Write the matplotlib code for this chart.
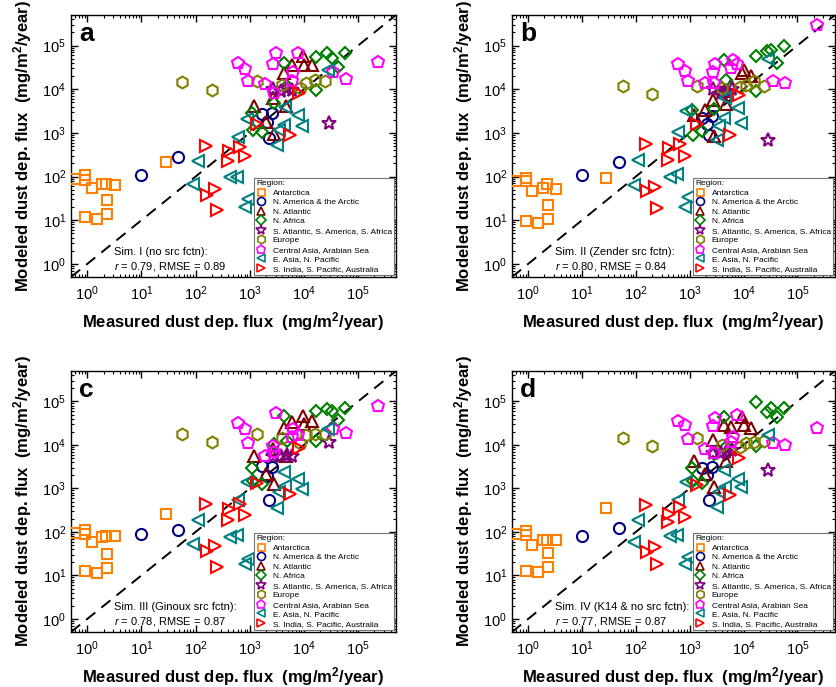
import numpy as np
import matplotlib.pyplot as plt
from matplotlib.lines import Line2D

plt.rcParams['font.family'] = ['Liberation Sans', 'DejaVu Sans']
plt.rcParams['mathtext.fontset'] = 'custom'
plt.rcParams['mathtext.rm'] = 'Liberation Sans'
plt.rcParams['mathtext.it'] = 'Liberation Sans:italic'
plt.rcParams['mathtext.bf'] = 'Liberation Sans:bold'

# ---- data: measured flux (x) shared, modeled flux per simulation (a, b, c, d) ----
ant_x = [0.6, 0.9, 0.9, 0.9, 1.2, 1.5, 1.9, 2.2, 2.3, 2.3, 3.3, 28]
ant_a = [87, 106, 84, 11.9, 56, 10.5, 67, 69, 29, 14, 63, 210]
ant_b = [78, 93, 78, 9.4, 46, 8.5, 55, 66, 22, 10.5, 53, 93]
ant_c = [92, 110, 88, 12.6, 60, 11.4, 76, 79, 31.5, 14.8, 79, 263]
ant_d = [88, 103, 86, 12.6, 49, 12, 64, 64, 33, 16, 64, 360]

nam_x = [10, 48, 1700, 2100, 2600, 2250]
nam_a = [111, 273, 2650, 1750, 2900, 760]
nam_b = [107, 218, 2200, 1600, 2400, 900]
nam_c = [91, 112, 3250, 1900, 3100, 540]
nam_d = [82, 125, 3000, 2000, 3100, 530]

nat_x = [1200, 1950, 2800, 2700, 4300, 5900, 4700, 9500, 10000, 13800]
nat_a = [4100, 1800, 950, 6200, 24000, 36000, 4100, 57000, 36000, 36000]
nat_b = [2500, 3300, 850, 5600, 9000, 12500, 4500, 23000, 27000, 20000]
nat_c = [5500, 2200, 1270, 8200, 25000, 34000, 5700, 46000, 31000, 35000]
nat_d = [4200, 2100, 1070, 12700, 28000, 26000, 4200, 44000, 28000, 25000]

naf_x = [1100, 1150, 1700, 2800, 4300, 4800, 17000, 17000, 27000, 33000, 42000, 57000]
naf_a = [2900, 1170, 1060, 4800, 39000, 12000, 54000, 9800, 66000, 51000, 32000, 69000]
naf_b = [3300, 900, 1100, 3500, 47000, 16000, 59000, 8900, 74000, 80000, 40000, 98000]
naf_c = [2950, 1500, 1230, 10600, 45000, 12000, 59000, 12000, 68000, 60000, 38000, 72000]
naf_d = [2950, 1500, 1300, 6300, 44000, 9000, 97000, 9300, 57000, 69000, 44000, 69000]

sat_x = [2700, 3800, 4800, 6000, 29000]
sat_a = [10000, 9000, 10500, 9500, 1650]
sat_b = [10000, 8000, 9000, 10000, 680]
sat_c = [5700, 5700, 5800, 5700, 11700]
sat_d = [6500, 6500, 7000, 7500, 2700]

eur_x = [57, 198, 1340, 4000, 8500, 11000, 15800, 24500]
eur_a = [14800, 9500, 15400, 12500, 10400, 14000, 16000, 15000]
eur_b = [12000, 7800, 12000, 10500, 11000, 12500, 15000, 12000]
eur_c = [17500, 11800, 17500, 14500, 11000, 16500, 17500, 17500]
eur_d = [14400, 9400, 14400, 10000, 9000, 11000, 11500, 12000]

cas_x = [615, 815, 935, 1900, 2700, 3000, 2850, 6300, 5900, 7600, 35000, 60000, 230000]
cas_a = [39000, 29000, 15500, 13000, 38000, 69000, 8300, 25000, 15000, 69000, 25000, 17000, 43000]
cas_b = [37000, 26500, 15000, 13500, 25000, 37000, 13500, 47000, 30000, 37000, 15400, 13500, 295000]
cas_c = [32000, 23500, 11000, 5700, 9300, 54000, 6900, 23000, 15000, 17000, 23000, 18700, 77000]
cas_d = [35000, 28000, 13500, 7900, 27000, 41000, 6600, 15000, 11500, 50000, 11000, 9800, 25000]

eas_x = [91, 109, 430, 570, 600, 870, 815, 935, 3150, 3500, 4300, 4500, 7900, 9100, 28000]
eas_a = [66, 225, 98, 98, 810, 2050, 20, 31, 525, 1150, 1500, 4000, 2600, 1400, 27500]
eas_b = [63, 245, 98, 117, 1060, 3100, 20, 34, 680, 1400, 2200, 6300, 3700, 1650, 48000]
eas_c = [53, 185, 75, 83, 550, 1400, 18, 24, 360, 810, 2400, 1130, 1660, 980, 23000]
eas_d = [58, 185, 79, 83, 550, 1400, 18, 26, 380, 820, 2600, 1070, 1660, 1070, 17000]

sin_x = [153, 420, 660, 820, 400, 160, 230, 250, 1340, 5500, 8100]
sin_a = [505, 380, 480, 295, 225, 37, 53, 17.5, 1620, 890, 8300]
sin_b = [550, 440, 550, 300, 245, 47, 58, 19, 1630, 890, 7400]
sin_c = [445, 330, 445, 250, 185, 36, 48, 16, 1300, 730, 8600]
sin_d = [410, 260, 370, 220, 170, 35, 45, 18, 1180, 700, 5000]

panel_letters = ['a', 'b', 'c', 'd']
sim_names = ['Sim. I (no src fctn):', 'Sim. II (Zender src fctn):',
             'Sim. III (Ginoux src fctn):', 'Sim. IV (K14 & no src fctn):']
r_vals = [0.79, 0.80, 0.78, 0.77]
rmse_vals = [0.89, 0.84, 0.87, 0.87]

# label, marker, colour, markersize, x, y per panel
regions = [
    ('Antarctica', 's', '#ff7f00', 7.0, ant_x, [ant_a, ant_b, ant_c, ant_d]),
    ('N. America & the Arctic', 'o', '#000080', 8.0, nam_x, [nam_a, nam_b, nam_c, nam_d]),
    ('N. Atlantic', '^', '#800000', 8.5, nat_x, [nat_a, nat_b, nat_c, nat_d]),
    ('N. Africa', 'D', '#008000', 6.5, naf_x, [naf_a, naf_b, naf_c, naf_d]),
    ('S. Atlantic, S. America, S. Africa', '*', '#800080', 10.0, sat_x, [sat_a, sat_b, sat_c, sat_d]),
    ('Europe', 'h', '#808000', 8.5, eur_x, [eur_a, eur_b, eur_c, eur_d]),
    ('Central Asia, Arabian Sea', 'p', '#ff00ff', 9.0, cas_x, [cas_a, cas_b, cas_c, cas_d]),
    ('E. Asia, N. Pacific', '<', '#008080', 8.5, eas_x, [eas_a, eas_b, eas_c, eas_d]),
    ('S. India, S. Pacific, Australia', '>', '#ff0000', 8.5, sin_x, [sin_a, sin_b, sin_c, sin_d]),
]

W, H = 837, 687
fig = plt.figure(figsize=(W / 100, H / 100), dpi=100)
# axes boxes in pixels: left, top, width, height
boxes = [(71, 15, 325, 262), (512, 15, 323, 262),
         (71, 371, 325, 261), (512, 371, 323, 261)]

lims = (0.5, 5e5)
for i, (l, t, w, h) in enumerate(boxes):
    ax = fig.add_axes([l / W, 1 - (t + h) / H, w / W, h / H])
    ax.set_xscale('log')
    ax.set_yscale('log')
    ax.set_xlim(lims)
    ax.set_ylim(lims)
    ax.plot(lims, lims, ls=(0, (6, 4)), color='black', lw=1.4, zorder=1)

    handles = []
    for name, mk, col, ms, xs, ys in regions:
        ax.plot(xs, ys[i], ls='none', marker=mk, ms=ms, mfc='none',
                mec=col, mew=1.5, zorder=3)
        handles.append(Line2D([], [], ls='none', marker=mk, ms=ms * 0.72,
                              mfc='none', mec=col, mew=1.2, label=name))

    ax.set_xticks([1, 10, 100, 1e3, 1e4, 1e5])
    ax.set_yticks([1, 10, 100, 1e3, 1e4, 1e5])
    ax.tick_params(which='both', direction='in', top=True, right=True,
                   labelsize=10.5)
    ax.tick_params(axis='x', which='major', pad=5)
    ax.tick_params(which='major', length=5, width=1.0)
    ax.tick_params(which='minor', length=2.5, width=0.8)
    for sp in ax.spines.values():
        sp.set_linewidth(1.0)

    ax.set_xlabel(r'Measured dust dep. flux  (mg/m$^{\mathbf{2}}$/year)',
                  fontsize=12, fontweight='bold', labelpad=5.5)
    ax.set_ylabel(r'Modeled dust dep. flux  (mg/m$^{\mathbf{2}}$/year)',
                  fontsize=12, fontweight='bold', labelpad=6)

    ax.text(0.025, 0.975, panel_letters[i], transform=ax.transAxes,
            fontsize=19, fontweight='bold', va='top', ha='left')
    ax.text(0.132, 0.015,
            sim_names[i] + '\n' + r'$r$' + f' = {r_vals[i]:.2f}, RMSE = {rmse_vals[i]:.2f}',
            transform=ax.transAxes, fontsize=8, va='bottom', ha='left',
            linespacing=1.3)

    leg = ax.legend(handles=handles, loc='lower right', fontsize=6.0,
                    title='Region:', title_fontsize=6.0, alignment='left',
                    fancybox=False, edgecolor='0.45', framealpha=1,
                    borderaxespad=0.2, labelspacing=0.2, handletextpad=0.7,
                    handlelength=1.3, borderpad=0.3)
    leg.get_frame().set_linewidth(0.8)

fig.savefig('out.png', dpi=100)
